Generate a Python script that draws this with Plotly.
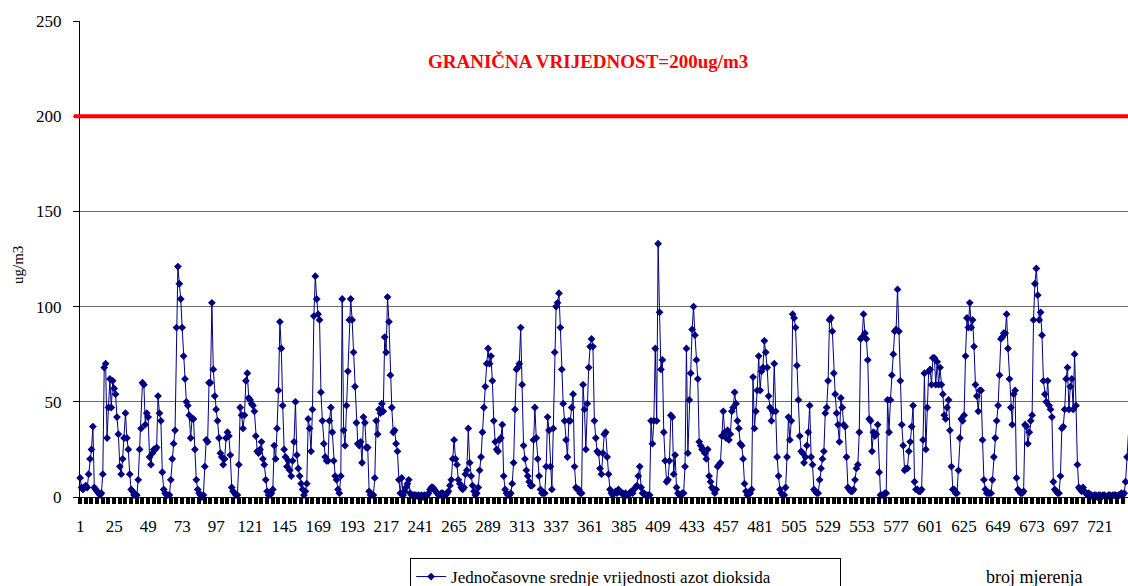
import plotly.graph_objects as go

no2_h001_083 = [
    10, 5, 4, 5, 6, 5, 12, 20, 25, 37,
    5, 4, 3, 2, 1, 2, 12, 68, 70, 31,
    47, 62, 47, 61, 57, 54, 42, 33, 16, 12,
    20, 31, 44, 31, 25, 12, 4, 3, 1, 1,
    1, 9, 25, 36, 60, 59, 38, 44, 42, 21,
    17, 23, 25, 25, 26, 53, 44, 40, 13, 4,
    2, 1, 1, 1, 9, 20, 28, 35, 89, 121,
    112, 104, 89, 74, 62, 50, 48, 43, 31, 41,
    41, 25, 9]
no2_h084_167 = [
    4, 2, 1, 0, 1, 16, 30, 29, 60, 60,
    102, 67, 53, 46, 40, 31, 23, 21, 17, 20,
    31, 34, 32, 22, 5, 3, 2, 1, 1, 17,
    47, 43, 36, 43, 61, 65, 52, 51, 49, 48,
    45, 32, 24, 23, 25, 29, 20, 17, 9, 3,
    1, 1, 2, 4, 27, 20, 36, 56, 92, 78,
    48, 25, 21, 16, 19, 14, 11, 19, 29, 50,
    22, 15, 11, 7, 4, 1, 3, 7, 41, 36,
    24, 46, 95, 116]
no2_h168_248 = [
    104, 96, 93, 55, 40, 28, 21, 19, 19, 40,
    47, 34, 19, 11, 9, 4, 2, 11, 104, 35,
    27, 48, 66, 93, 104, 93, 76, 58, 39, 28,
    27, 29, 18, 42, 39, 26, 26, 3, 1, 1,
    1, 10, 40, 33, 46, 44, 49, 45, 84, 76,
    105, 92, 64, 47, 34, 35, 28, 24, 9, 2,
    10, 1, 3, 5, 7, 9, 2, 1, 1, 1,
    1, 0.5, 1, 0, 1, 0, 1, 0, 1, 2, 4]
no2_h249_333 = [
    5, 5, 4, 3, 2, 1, 1, 2, 2, 1,
    1, 2, 3, 6, 9, 20, 30, 20, 17, 9,
    7, 5, 4, 5, 12, 14, 36, 18, 11, 6,
    3, 1, 2, 5, 14, 21, 34, 47, 58, 70,
    78, 70, 74, 61, 40, 29, 25, 24, 30, 31,
    38, 11, 4, 2, 1, 1, 2, 7, 18, 46,
    67, 68, 70, 89, 59, 27, 20, 14, 11, 8,
    6, 6, 30, 47, 31, 20, 11, 4, 2, 2,
    2, 16, 42, 35, 16]
no2_h334_416 = [
    4, 36, 76, 100, 102, 107, 89, 67, 49, 40,
    30, 21, 40, 40, 47, 54, 16, 5, 4, 4,
    2, 2, 59, 46, 25, 49, 68, 79, 83, 79,
    40, 31, 24, 23, 15, 12, 23, 33, 34, 21,
    12, 4, 2, 1, 2, 3, 2, 4, 3, 2,
    2, 1, 2, 1, 1, 2, 3, 2, 4, 5,
    6, 11, 16, 5, 2, 2, 1, 1, 1, 1,
    40, 28, 40, 78, 40, 133, 97, 67, 72, 34,
    19, 8, 9]
no2_h417_500 = [
    19, 43, 42, 12, 22, 5, 2, 1, 1, 2,
    2, 16, 78, 23, 51, 65, 88, 100, 85, 72,
    62, 29, 27, 25, 25, 23, 20, 25, 11, 8,
    5, 4, 2, 4, 16, 17, 18, 32, 45, 34,
    31, 35, 30, 33, 45, 47, 55, 49, 40, 36,
    28, 27, 20, 7, 3, 1, 2, 2, 4, 63,
    36, 45, 56, 74, 56, 66, 68, 82, 76, 68,
    53, 47, 40, 45, 70, 45, 21, 11, 4, 2,
    1, 1, 5, 21]
no2_h501_583 = [
    42, 30, 40, 96, 94, 89, 69, 51, 32, 24,
    23, 18, 21, 27, 34, 48, 21, 17, 4, 3,
    2, 2, 9, 15, 20, 24, 44, 47, 61, 93,
    94, 87, 65, 54, 44, 38, 29, 52, 47, 38,
    37, 21, 5, 4, 3, 3, 4, 9, 15, 17,
    34, 83, 84, 96, 86, 83, 72, 41, 40, 24,
    34, 32, 33, 38, 13, 1, 1, 1, 2, 2,
    51, 34, 51, 64, 75, 87, 88, 109, 87, 61,
    38, 27, 14]
no2_h584_666 = [
    15, 15, 24, 29, 37, 48, 8, 4, 4, 3,
    3, 4, 30, 65, 25, 47, 66, 67, 59, 73,
    73, 59, 71, 59, 68, 59, 54, 43, 41, 47,
    51, 35, 16, 4, 4, 2, 2, 14, 31, 41,
    40, 43, 74, 94, 89, 102, 89, 93, 79, 59,
    53, 45, 56, 56, 30, 9, 4, 2, 2, 2,
    2, 9, 21, 31, 40, 48, 64, 83, 84, 86,
    86, 96, 78, 62, 47, 38, 54, 56, 10, 4,
    3, 2, 2]
no2_h667_741 = [
    3, 38, 37, 28, 34, 40, 43, 93, 112, 120,
    106, 93, 97, 85, 61, 54, 50, 61, 48, 46,
    42, 8, 4, 3, 2, 2, 11, 36, 37, 46,
    62, 68, 46, 58, 62, 46, 75, 48, 17, 5,
    4, 3, 5, 3, 2, 1, 2, 1, 1, 0,
    1, 1, 0, 1, 1, 0, 1, 1, 0, 0,
    1, 1, 0, 1, 1, 1, 0, 1, 1, 2,
    1, 2, 8, 21, 33]

x_label_step = 24          # a label at 1, 25, 49, ..., 721
x_tick_step = 4            # a tick mark every 4 measurements
y_tick_values = [0, 50, 100, 150, 200, 250]
limit_value = 200
limit_label = "GRANIČNA VRIJEDNOST=200ug/m3"
series_name = "Jednočasovne srednje vrijednosti azot dioksida"
x_title = "broj mjerenja"
y_title = "ug/m3"

values = (no2_h001_083 + no2_h084_167 + no2_h168_248 + no2_h249_333 + no2_h334_416
          + no2_h417_500 + no2_h501_583 + no2_h584_666 + no2_h667_741)
assert len(values) == 741, len(values)
hours = list(range(1, len(values) + 1))

x_tick_values = hours[::x_tick_step]
x_tick_labels = [str(v) if (v - 1) % x_label_step == 0 else "" for v in x_tick_values]

SERIF = "Liberation Serif, Times New Roman, serif"
NAVY = "#000080"

fig = go.Figure()
fig.add_trace(go.Scatter(
    x=hours, y=values, mode="lines+markers", name=series_name,
    line=dict(color=NAVY, width=1),
    marker=dict(symbol="diamond", size=6, color=NAVY),
    cliponaxis=False,
))

fig.update_layout(
    width=1128, height=586,
    margin=dict(l=80, r=0, t=21, b=89, autoexpand=False),
    paper_bgcolor="white", plot_bgcolor="white",
    font=dict(family=SERIF, size=17, color="black"),
    showlegend=True,
    legend=dict(
        orientation="h", x=0.315, xanchor="left", y=(497 - 558) / 476, yanchor="top",
        bordercolor="black", borderwidth=1, bgcolor="white",
        font=dict(family=SERIF, size=17, color="black"),
        entrywidth=384, entrywidthmode="pixels",
    ),
)

fig.update_xaxes(
    range=[0.9, 740.7], tickmode="array", tickvals=x_tick_values, ticktext=x_tick_labels,
    ticks="outside", ticklen=6, tickcolor="black", tickwidth=4,
    showline=True, linecolor="black", linewidth=1,
    showgrid=False, zeroline=False, ticklabelstandoff=8,
    tickfont=dict(family=SERIF, size=17, color="black"),
)
fig.update_yaxes(
    range=[0, 250], tickmode="array", tickvals=y_tick_values,
    ticks="outside", ticklen=6, tickcolor="black",
    showline=True, linecolor="black", linewidth=1,
    showgrid=True, gridcolor="#6b6b6b", gridwidth=1, zeroline=False,
    ticklabelstandoff=8,
    tickfont=dict(family=SERIF, size=17, color="black"),
)

fig.add_shape(type="line", xref="paper", yref="y", x0=-6 / 1048, x1=1,
              y0=limit_value, y1=limit_value, line=dict(color="#ff0000", width=4),
              layer="above")

fig.add_annotation(text="<b>" + limit_label + "</b>", xref="paper", yref="y",
                   x=(588 - 80) / 1048, y=228.5, xanchor="center", showarrow=False,
                   font=dict(family=SERIF, size=19, color="#ff0000"))
fig.add_annotation(text=y_title, xref="paper", yref="paper",
                   x=(18 - 80) / 1048, y=(497 - 265) / 476, textangle=-90,
                   xanchor="center", yanchor="middle", showarrow=False,
                   font=dict(family=SERIF, size=15, color="black"))
fig.add_annotation(text=x_title, xref="paper", yref="paper",
                   x=(1034 - 80) / 1048, y=(497 - 577) / 476,
                   xanchor="center", yanchor="middle", showarrow=False,
                   font=dict(family=SERIF, size=18, color="black"))

fig.write_html("out.html", config={"displayModeBar": False},
               post_script="document.body.style.margin='0';")
